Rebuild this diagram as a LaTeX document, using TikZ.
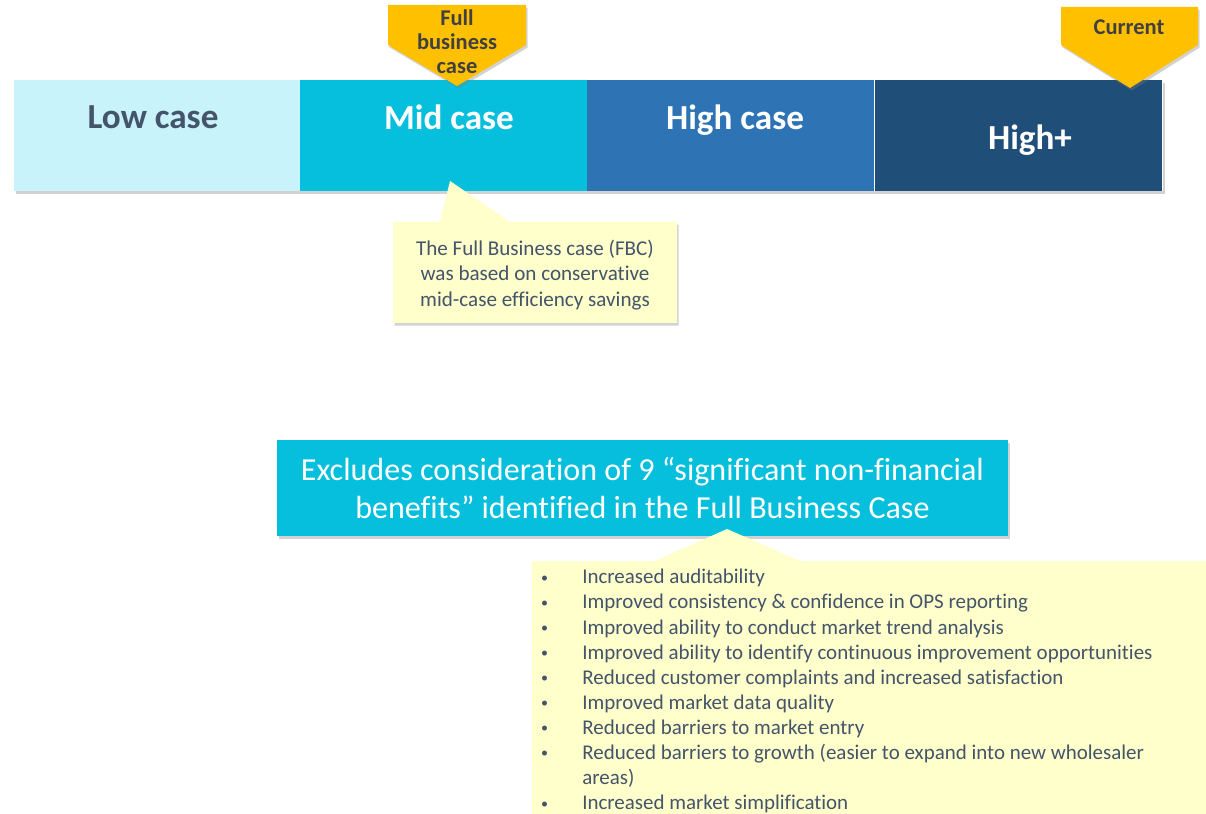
\documentclass[tikz,border=0pt]{standalone}
\usepackage{fontspec}
\setmainfont{Carlito}[Ligatures=CommonOff]
\usetikzlibrary{shadows}

\definecolor{lowcase}{HTML}{C9F3FB}
\definecolor{midcase}{HTML}{05BFDD}
\definecolor{highcase}{HTML}{2E74B5}
\definecolor{highplus}{HTML}{1F4E79}
\definecolor{tagyellow}{HTML}{FFC000}
\definecolor{notebg}{HTML}{FFFFCC}
\definecolor{slate}{HTML}{44546A}
\definecolor{darktxt}{HTML}{404040}

\newcommand{\bul}{\hspace{2pt}\raisebox{1.2pt}{\fontsize{10}{10}\selectfont\textbullet}}

\tikzset{
  seg/.style={minimum width=287*0.025cm, minimum height=111*0.025cm, inner sep=0pt},
  shade/.style={drop shadow={shadow xshift=1.2pt, shadow yshift=-1.8pt, opacity=0.35}},
  caselbl/.style={font=\fontsize{25}{30}\selectfont\bfseries, text=white, text depth=0pt},
  taglbl/.style={font=\fontsize{16}{17}\selectfont\bfseries, text=darktxt, align=center},
  notelbl/.style={font=\fontsize{15}{18.2}\selectfont, text=slate, align=center},
}

\begin{document}
\begin{tikzpicture}[x=0.025cm, y=-0.025cm]

\path[use as bounding box, clip] (0,0) rectangle (1206,814);
\fill[white] (0,0) rectangle (1206,814);

% the four cases
\fill[white, shade] (14,80) rectangle (1163,191);
\node[seg, fill=lowcase] (low) at (157,135.5) {};
\node[seg, fill=midcase] (mid) at (443.5,135.5) {};
\node[seg, fill=highcase] (high) at (730.5,135.5) {};
\node[seg, fill=highplus] (highp) at (1018.5,135.5) {};

\node[caselbl, text=slate] (lowlbl) at (153,117) {Low case};
\node[caselbl] (midlbl) at (449,117) {Mid case};
\node[caselbl] (highlbl) at (735,117) {High case};
\node[caselbl] (highplbl) at (1030,137) {High+};

% tags
\path[fill=tagyellow, shade] (388,5) -- (526,5) -- (526,45) -- (457,86) -- (388,45) -- cycle;
\node[taglbl] (fulltag) at (457,42) {Full\\business\\case};

\path[fill=tagyellow, shade] (1061,7) -- (1198,7) -- (1198,45) -- (1130,88) -- (1061,45) -- cycle;
\node[taglbl] (curtag) at (1129,27) {Current};

% note under mid case
\path[fill=notebg, shade] (393,222) -- (440,222) -- (450,181) -- (510,222) -- (677,222) -- (677,323) -- (393,323) -- cycle;
\node[notelbl] (fbcnote) at (535,275) {The Full Business case (FBC)\\was based on conservative\\mid-case efficiency savings};

% exclusions
\node[fill=midcase, shade, minimum width=731*0.025cm, minimum height=96*0.025cm,
      font=\fontsize{22.8}{27}\selectfont, text=white, align=center] (excl) at (642.5,488)
      {Excludes consideration of 9 “significant non-financial\\benefits” identified in the Full Business Case};

\path[fill=notebg, shade] (532,561) -- (655,561) -- (727,529) -- (800,561) -- (1230,561) -- (1230,840) -- (532,840) -- cycle;
\node[anchor=north west, inner sep=0pt, text=slate, font=\fontsize{14.9}{17.85}\selectfont] (benefits) at (538,566) {%
  \begin{tabular}{@{}p{1.1cm}@{}l@{}}
  \bul & Increased auditability\\
  \bul & Improved consistency \& confidence in OPS reporting\\
  \bul & Improved ability to conduct market trend analysis\\
  \bul & Improved ability to identify continuous improvement opportunities\\
  \bul & Reduced customer complaints and increased satisfaction\\
  \bul & Improved market data quality\\
  \bul & Reduced barriers to market entry\\
  \bul & Reduced barriers to growth (easier to expand into new wholesaler\\
       & areas)\\
  \bul & Increased market simplification
  \end{tabular}};

\end{tikzpicture}
\end{document}
